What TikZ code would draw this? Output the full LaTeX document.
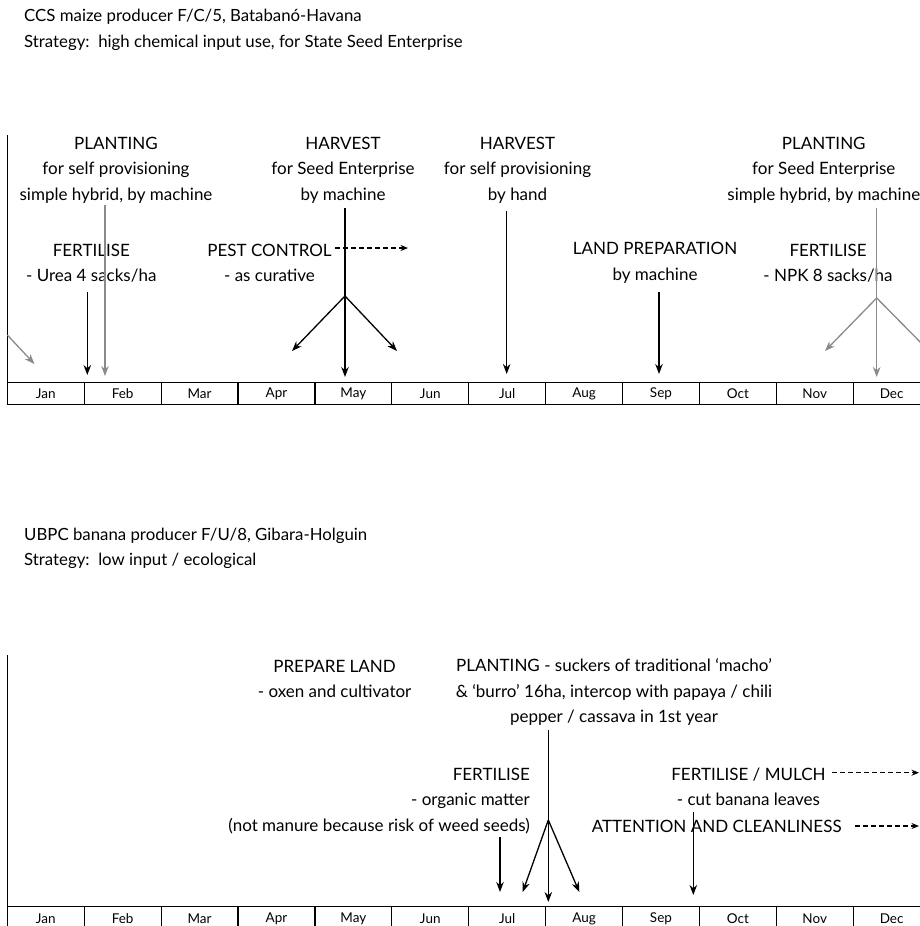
\documentclass[tikz,border=0pt]{standalone}
\usepackage{fontspec}
\setmainfont{Lato}
\usetikzlibrary{arrows.meta}
\definecolor{ggray}{HTML}{8A8A8A}
\begin{document}
\begin{tikzpicture}[x=1pt,y=-1pt,
  lbl/.style={align=center, inner sep=0pt, font=\fontsize{17}{25.5}\selectfont},
  ttl/.style={align=left, anchor=west, inner sep=0pt, font=\fontsize{16.8}{25.5}\selectfont},
  mon/.style={inner sep=0pt, font=\fontsize{13.5}{15}\selectfont},
  axisline/.style={line width=1.2pt, black},
  blk/.style={line width=1.3pt, black, -{Stealth[length=10pt,width=7.5pt]}},
  gry/.style={line width=1.3pt, ggray, -{Stealth[length=10pt,width=7.5pt]}},
  gplain/.style={line width=1.3pt, ggray},
  dsh/.style={line width=1.2pt, black, dash pattern=on 5pt off 3pt, -{Stealth[length=7.5pt,width=6pt]}}
]
\useasboundingbox (0,0) rectangle (920,926);
\clip (0,0) rectangle (920,926);

% ---------------- maize calendar ----------------
\node[ttl] (t1) at (24,29.7) {CCS maize producer F/C/5, Batabanó-Havana\\Strategy:\ \ high chemical input use, for State Seed Enterprise};

% axis and month strip
\draw[axisline] (7.3,135) -- (7.3,404.7);
\draw[axisline] (7.3,382.7) -- (925,382.7);
\draw[axisline] (7.3,404.7) -- (925,404.7);
\foreach \m [count=\i from 0] in {Jan,Feb,Mar,Apr,May,Jun,Jul,Aug,Sep,Oct,Nov,Dec}{
  \draw[axisline] ({7.3+76.9*\i},382.7) -- ({7.3+76.9*\i},404.7);
  \node[mon] (ma\i) at ({45.75+76.9*\i},393.7) {\m};
}

% labels
\node[lbl] (pl1) at (116,170) {PLANTING\\for self provisioning\\simple hybrid, by machine};
\node[lbl] (fe1) at (91.3,263) {FERTILISE\\- Urea 4 sacks/ha};
\node[lbl] (hv1) at (343,170) {HARVEST\\for Seed Enterprise\\by machine};
\node[lbl] (pc1) at (269.5,263) {PEST CONTROL\\- as curative};
\node[lbl] (hv2) at (517.5,170) {HARVEST\\for self provisioning\\by hand};
\node[lbl] (lp1) at (655,263) {LAND PREPARATION\\by machine};
\node[lbl] (pl2) at (823.8,170) {PLANTING\\for Seed Enterprise\\simple hybrid, by machine};
\node[lbl] (fe2) at (828,263) {FERTILISE\\- NPK 8 sacks/ha};

% arrow end points
\coordinate (a1s) at (105,205);   \coordinate (a1e) at (105,376);
\coordinate (a2s) at (87.3,292);  \coordinate (a2e) at (87.3,375);
\coordinate (a3s) at (7.3,335);   \coordinate (a3e) at (34.5,364);
\coordinate (h1s) at (345,208);   \coordinate (h1f) at (345,296);
\coordinate (h1e) at (345,377);   \coordinate (h1l) at (292,351);
\coordinate (h1r) at (397,351);
\coordinate (d1s) at (335,248);   \coordinate (d1e) at (408,248);
\coordinate (a4s) at (506.7,211); \coordinate (a4e) at (506.7,374);
\coordinate (a5s) at (659,292);   \coordinate (a5e) at (659,374);
\coordinate (p2s) at (876.7,208); \coordinate (p2f) at (876.7,298);
\coordinate (p2e) at (876.7,377); \coordinate (p2l) at (825,351);
\coordinate (p2r) at (929,351);

% arrows
\draw[gry] (a1s) -- (a1e);
\draw[blk] (a2s) -- (a2e);
\draw[gry] (a3s) -- (a3e);
\draw[blk] (h1s) -- (h1e);
\draw[blk] (h1f) -- (h1l);
\draw[blk] (h1f) -- (h1r);
\draw[dsh] (d1s) -- (d1e);
\draw[blk] (a4s) -- (a4e);
\draw[blk] (a5s) -- (a5e);
\draw[gry] (p2s) -- (p2e);
\draw[gry] (p2f) -- (p2l);
\draw[gplain] (p2f) -- (p2r);

% ---------------- banana calendar ----------------
\node[ttl] (t2) at (24,548.3) {UBPC banana producer F/U/8, Gibara-Holguin\\Strategy:\ \ low input / ecological};

\draw[axisline] (7.3,655) -- (7.3,935);
\draw[axisline] (7.3,906.7) -- (925,906.7);
\foreach \m [count=\i from 0] in {Jan,Feb,Mar,Apr,May,Jun,Jul,Aug,Sep,Oct,Nov,Dec}{
  \draw[axisline] ({7.3+76.9*\i},906.7) -- ({7.3+76.9*\i},935);
  \node[mon] (mb\i) at ({45.75+76.9*\i},918.5) {\m};
}

\node[lbl] (pr3) at (334.6,679) {PREPARE LAND\\- oxen and cultivator};
\node[lbl] (pl3) at (614,692) {PLANTING - suckers of traditional ‘macho’\\\& ‘burro’ 16ha, intercop with papaya / chili\\pepper / cassava in 1st year};
\node[lbl, align=right, anchor=east] (fe3) at (530,801) {FERTILISE\\- organic matter\\(not manure because risk of weed seeds)};
\node[lbl] (fm3) at (748.4,787) {FERTILISE / MULCH\\- cut banana leaves};
\node[lbl] (ac3) at (716.7,826) {ATTENTION AND CLEANLINESS};

\coordinate (b1s) at (500,837);   \coordinate (b1e) at (500,892);
\coordinate (b2s) at (548.3,730); \coordinate (b2f) at (548.3,820);
\coordinate (b2e) at (548.3,902); \coordinate (b2l) at (522.7,892);
\coordinate (b2r) at (579.3,892);
\coordinate (b3s) at (693.3,812); \coordinate (b3e) at (693.3,895);
\coordinate (d2s) at (832,772.7); \coordinate (d2e) at (919,772.7);
\coordinate (d3s) at (855,826);   \coordinate (d3e) at (919,826);

\draw[blk] (b1s) -- (b1e);
\draw[blk] (b2s) -- (b2e);
\draw[blk] (b2f) -- (b2l);
\draw[blk] (b2f) -- (b2r);
\draw[blk] (b3s) -- (b3e);
\draw[dsh] (d2s) -- (d2e);
\draw[dsh] (d3s) -- (d3e);
\end{tikzpicture}
\end{document}
